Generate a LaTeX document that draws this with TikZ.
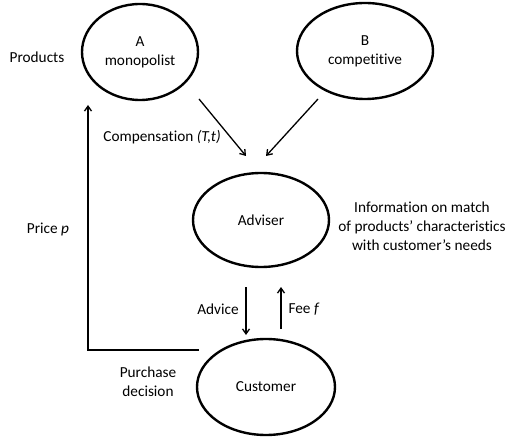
\documentclass[tikz,border=0pt]{standalone}
\usepackage{fontspec}
\setmainfont[Ligatures=NoCommon]{Carlito}
\usetikzlibrary{arrows.meta,shapes.geometric}
\begin{document}
\begin{tikzpicture}[x=1pt,y=-1pt,
  ell/.style={draw,ellipse,line width=2.4pt,minimum width=#1,inner sep=0pt,align=center},
  ell/.default=136pt,
  arr/.style={-{Straight Barb[length=5pt,width=7pt]},line width=1.3pt},
  lbl/.style={align=center,inner sep=0pt},
  every node/.style={font=\fontsize{15.3}{18.8}\selectfont}]
\useasboundingbox (0,0) rectangle (511,438);
\node[ell=116pt,minimum height=96pt] (A) at (140,52) {A\\monopolist};
\node[ell=136pt,minimum height=96pt] (B) at (365,51) {B\\competitive};
\node[ell=136pt,minimum height=94pt] (adv) at (261,220) {Adviser};
\node[ell=138pt,minimum height=96pt] (cust) at (266,387) {Customer};
\coordinate (a1) at (199,99); \coordinate (a2) at (246,156);
\coordinate (b1) at (318,99); \coordinate (b2) at (266,156);
\coordinate (ad1) at (246,287); \coordinate (ad2) at (246,335);
\coordinate (f1) at (281,329); \coordinate (f2) at (281,287);
\coordinate (p0) at (199,350); \coordinate (p1) at (88,350); \coordinate (p2) at (88,105);
\draw[arr] (a1) -- (a2);
\draw[arr] (b1) -- (b2);
\draw[arr] (ad1) -- (ad2);
\draw[arr] (f1) -- (f2);
\draw[arr] (p0) -- (p1) -- (p2);
\node[lbl] (prod) at (37,57) {Products};
\node[lbl] (comp) at (162,137) {Compensation \textit{(T,t)}};
\node[lbl] (price) at (48,229) {Price \textit{p}};
\node[lbl] (info) at (422,226) {Information on match\\of products’ characteristics\\with customer’s needs};
\node[lbl] (advice) at (218,309) {Advice};
\node[lbl] (fee) at (304,309) {Fee \textit{f}};
\node[lbl] (purch) at (148,382) {Purchase\\decision};
\end{tikzpicture}
\end{document}
